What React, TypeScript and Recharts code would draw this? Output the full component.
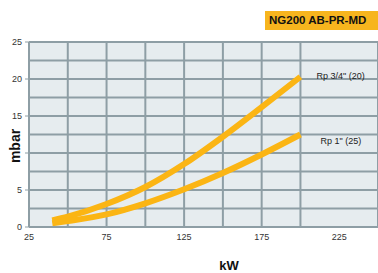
import React from 'react';
import { LineChart, Line, XAxis, YAxis, CartesianGrid, LabelList } from 'recharts';

const kw = [40, 50, 75, 100, 125, 150, 175, 200];
const rp34 = [0.9, 1.4, 3.1, 5.4, 8.5, 12.2, 16.2, 20.3];
const rp1 = [0.5, 0.8, 1.7, 3.2, 5.1, 7.3, 9.8, 12.5];

const xTicks = [25, 75, 125, 175, 225];
const yTicks = [0, 5, 10, 15, 20, 25];
// the 10 label sits under the "mbar" title in the original, so it is left blank
const yTickLabels = ['0', '5', '', '15', '20', '25'];
const xGrid = [25, 50, 75, 100, 125, 150, 175, 200, 225, 250];
const yGrid = [0, 2.5, 5, 7.5, 10, 12.5, 15, 17.5, 20, 22.5, 25];

const seriesNames = { rp34: 'Rp 3/4" (20)', rp1: 'Rp 1" (25)' };

const data = kw.map((k, i) => ({ kw: k, rp34: rp34[i], rp1: rp1[i] }));

const GRID = '#8e9ea5';
const CURVE = '#fbb514';
const FONT = '"Liberation Sans", Arial, sans-serif';

const endLabel = (name: string, dx: number, dy: number) => (props: any) => {
  const { x, y, index } = props;
  if (index !== data.length - 1) return null;
  return (
    <text x={x + dx} y={y + dy} fontSize={9} fill="#222" fontFamily={FONT} dominantBaseline="central">
      {name}
    </text>
  );
};

const App: React.FC = () => {
  return (
    <div style={{ position: 'absolute', left: 0, top: 0, width: 378, height: 273, background: '#fff', fontFamily: FONT }}>
      <div
        style={{
          position: 'absolute',
          left: 265,
          top: 11,
          width: 113,
          height: 19,
          background: '#f7b51e',
          color: '#111',
          fontWeight: 'bold',
          fontSize: 11.5,
          lineHeight: '19px',
          paddingLeft: 4,
          boxSizing: 'border-box',
          whiteSpace: 'nowrap',
        }}
      >
        NG200 AB-PR-MD
      </div>
      <LineChart width={378} height={273} data={data} margin={{ top: 42, right: 0, bottom: 26, left: 0 }}>
        <CartesianGrid
          fill="#e6ecef"
          stroke={GRID}
          strokeWidth={2}
          horizontalValues={yGrid}
          verticalValues={xGrid}
        />
        <XAxis
          dataKey="kw"
          type="number"
          domain={[25, 250]}
          ticks={xTicks}
          height={20}
          axisLine={{ stroke: GRID, strokeWidth: 2 }}
          tickLine={false}
          tick={{ fontSize: 9, fill: '#333', fontFamily: FONT }}
          tickMargin={1}
        />
        <YAxis
          type="number"
          domain={[0, 25]}
          ticks={yTicks}
          tickFormatter={(v: number) => yTickLabels[yTicks.indexOf(v)] ?? ''}
          width={29}
          axisLine={{ stroke: GRID, strokeWidth: 2 }}
          tickLine={{ stroke: GRID }}
          tickSize={4}
          tick={{ fontSize: 9, fill: '#333', fontFamily: FONT }}
          tickMargin={3}
        />
        <Line
          type="monotone"
          dataKey="rp34"
          stroke={CURVE}
          strokeWidth={6}
          dot={false}
          isAnimationActive={false}
        >
          <LabelList dataKey="rp34" content={endLabel(seriesNames.rp34, 16, -1)} />
        </Line>
        <Line
          type="monotone"
          dataKey="rp1"
          stroke={CURVE}
          strokeWidth={6}
          dot={false}
          isAnimationActive={false}
        >
          <LabelList dataKey="rp1" content={endLabel(seriesNames.rp1, 20, 6)} />
        </Line>
        <text x={15} y={146} transform="rotate(-90 15 146)" textAnchor="middle" dominantBaseline="central" fontSize={14} fontWeight="bold" fill="#111" fontFamily={FONT}>
          mbar
        </text>
        <text x={229} y={265} textAnchor="middle" dominantBaseline="central" fontSize={13} fontWeight="bold" fill="#111" fontFamily={FONT}>
          kW
        </text>
      </LineChart>
    </div>
  );
};

export default App;
